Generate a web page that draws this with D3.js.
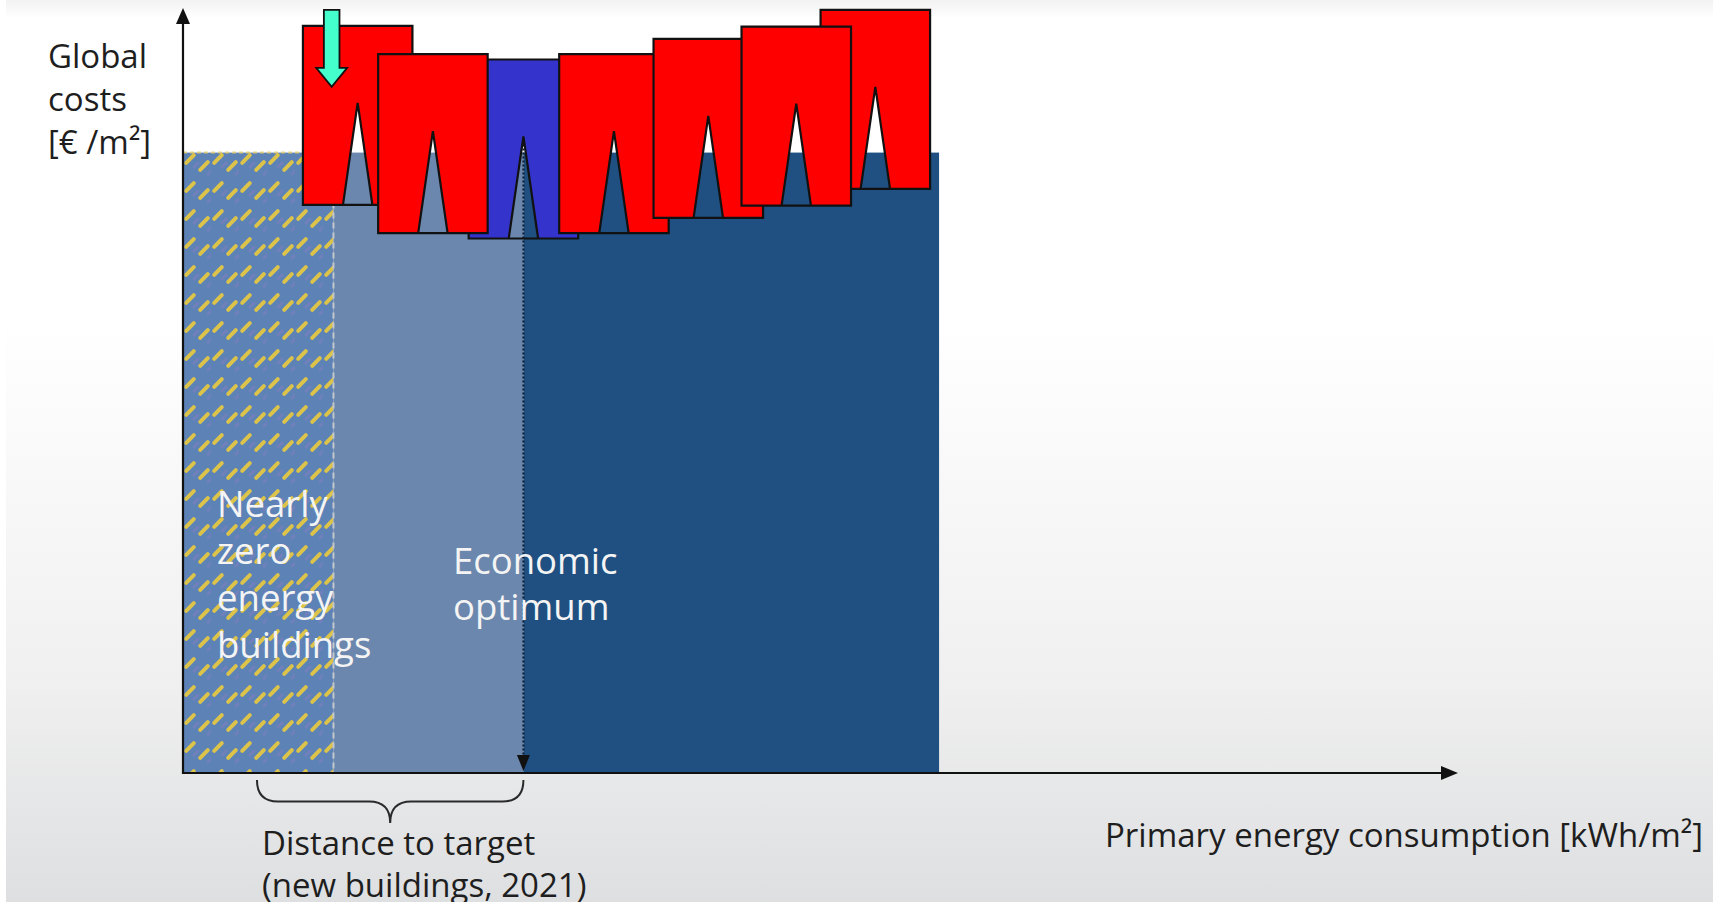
<!DOCTYPE html>
<html>
<head>
<meta charset="utf-8">
<script src="https://cdn.jsdelivr.net/npm/d3@7"></script>
<style>
  html, body { margin: 0; padding: 0; background: #fff; }
  svg { display: block; }
  text { font-family: "Open Sans", "Noto Sans", sans-serif; font-weight: 500; }
</style>
</head>
<body>
<svg id="chart" width="1713" height="902"></svg>
<script>
// ---------------- data ----------------
const regionNames = ["Nearly zero energy buildings", "Distance to target", "Above optimum"];
const regionStart = [0, 11.8, 26.7];
const regionEnd   = [11.8, 26.7, 59.3];
const regionCost  = [81.1, 81.1, 81.1];

const pointEnergy = [13.7, 19.6, 26.7, 33.8, 41.2, 48.1, 54.3];
const pointCost   = [87.6, 83.9, 83.2, 83.9, 85.9, 87.5, 89.7];
const optimumIndex = 2;
const drawOrder = [2, 6, 0, 1, 3, 4, 5];

const braceRange = [5.8, 26.7];

const yLabelLines = ["Global", "costs", "[€ /m²]"];
const xLabel = "Primary energy consumption [kWh/m²]";
const nzebLines = ["Nearly", "zero", "energy", "buildings"];
const optimumLines = ["Economic", "optimum"];
const braceLines = ["Distance to target", "(new buildings, 2021)"];

// ---------------- setup ----------------
const W = 1713, H = 902;
const svg = d3.select("#chart");
const x = d3.scaleLinear().domain([0, 100]).range([183, 1458]);
const y = d3.scaleLinear().domain([0, 100]).range([773, 8]);

const defs = svg.append("defs");
const bg = defs.append("linearGradient").attr("id", "bg").attr("x1", 0).attr("y1", 0).attr("x2", 0).attr("y2", 1);
bg.append("stop").attr("offset", "0").attr("stop-color", "#f2f2f2");
bg.append("stop").attr("offset", "0.02").attr("stop-color", "#ffffff");
bg.append("stop").attr("offset", "0.35").attr("stop-color", "#ffffff");
bg.append("stop").attr("offset", "0.75").attr("stop-color", "#f0f0f0");
bg.append("stop").attr("offset", "1").attr("stop-color", "#dedfe1");

const T = 28;
const pat = defs.append("pattern").attr("id", "hatch")
  .attr("patternUnits", "userSpaceOnUse").attr("width", T).attr("height", T)
  .attr("x", 183).attr("y", 152);
pat.append("rect").attr("width", T).attr("height", T).attr("fill", "#5d82b6");
[[7, 7], [21, 14], [14, 24]].slice(0, 2).forEach(([cx, cy]) => {
  pat.append("line").attr("x1", cx + 4).attr("y1", cy + 8).attr("x2", cx + 8).attr("y2", cy + 4)
    .attr("stroke", "#8a7cc0").attr("stroke-width", 3).attr("stroke-linecap", "round").attr("opacity", 0.4);
  pat.append("line").attr("x1", cx - 3.8).attr("y1", cy + 3.8).attr("x2", cx + 3.8).attr("y2", cy - 3.8)
    .attr("stroke", "#dcc34a").attr("stroke-width", 4).attr("stroke-linecap", "round");
});

svg.append("rect").attr("width", W).attr("height", H).attr("fill", "url(#bg)");
svg.append("rect").attr("width", 6).attr("height", H).attr("fill", "#ffffff");

// ---------------- regions ----------------
const regionFill = ["url(#hatch)", "#6b87ad", "#1f5081"];
svg.append("g").selectAll("rect").data(regionNames).join("rect")
  .attr("x", (d, i) => x(regionStart[i]))
  .attr("y", (d, i) => y(regionCost[i]))
  .attr("width", (d, i) => x(regionEnd[i]) - x(regionStart[i]))
  .attr("height", (d, i) => y(0) - y(regionCost[i]))
  .attr("fill", (d, i) => regionFill[i]);

// dotted yellow top edge of NZEB region
svg.append("line")
  .attr("x1", x(regionStart[0])).attr("x2", x(regionEnd[0]))
  .attr("y1", y(regionCost[0])).attr("y2", y(regionCost[0]))
  .attr("stroke", "#e6cf6a").attr("stroke-width", 2).attr("stroke-dasharray", "4,3").attr("opacity", 0.8);

// dashed boundary of NZEB region
svg.append("line")
  .attr("x1", x(regionEnd[0])).attr("x2", x(regionEnd[0]))
  .attr("y1", y(regionCost[0])).attr("y2", y(0))
  .attr("stroke", "#c4c8cc").attr("stroke-width", 2).attr("stroke-dasharray", "6,4");

// dotted optimum line with arrow
const ox = x(pointEnergy[optimumIndex]);
svg.append("line")
  .attr("x1", ox).attr("x2", ox)
  .attr("y1", y(pointCost[optimumIndex])).attr("y2", y(0) - 12)
  .attr("stroke", "#0b1a33").attr("stroke-width", 2).attr("stroke-dasharray", "2,2");
svg.append("path")
  .attr("d", `M${ox - 6.5},${y(0) - 18} L${ox + 6.5},${y(0) - 18} L${ox},${y(0) - 2} Z`)
  .attr("fill", "#111");

// ---------------- region labels ----------------
const nz = svg.append("text").attr("fill", "#f4f4f4").attr("font-size", 36.5);
nzebLines.forEach((t, i) => nz.append("tspan").attr("x", 217).attr("y", 517 + i * 47).text(t));
const eo = svg.append("text").attr("fill", "#f4f4f4").attr("font-size", 36.5);
optimumLines.forEach((t, i) => eo.append("tspan").attr("x", 453).attr("y", 574 + i * 46).text(t));

// ---------------- axes ----------------
const axisG = svg.append("g");
axisG.append("line").attr("x1", x(0)).attr("x2", x(0)).attr("y1", y(0) + 1).attr("y2", y(100) + 14)
  .attr("stroke", "#111").attr("stroke-width", 2.2);
axisG.append("path").attr("d", `M${x(0) - 7},${y(100) + 16} L${x(0) + 7},${y(100) + 16} L${x(0)},${y(100)} Z`).attr("fill", "#111");
axisG.append("line").attr("x1", x(0) - 1).attr("x2", x(100) - 14).attr("y1", y(0)).attr("y2", y(0))
  .attr("stroke", "#111").attr("stroke-width", 2.2);
axisG.append("path").attr("d", `M${x(100) - 17},${y(0) - 7} L${x(100) - 17},${y(0) + 7} L${x(100)},${y(0)} Z`).attr("fill", "#111");

// ---------------- markers ----------------
const MW = 109.5, MH = 179, APEX = 77, NB = 14.7;
function markerPath(px, py) {
  const l = px - MW / 2, r = px + MW / 2, t = py - APEX, b = t + MH;
  return `M${l},${t} L${r},${t} L${r},${b} L${l},${b} Z ` +
         `M${px},${py} L${px + NB},${b} L${px - NB},${b} Z`;
}
svg.append("g").selectAll("path").data(drawOrder).join("path")
  .attr("d", i => markerPath(x(pointEnergy[i]), y(pointCost[i])))
  .attr("fill", i => i === optimumIndex ? "#3434cc" : "#ff0000")
  .attr("fill-rule", "evenodd")
  .attr("stroke", "#111").attr("stroke-width", 2.2).attr("stroke-linejoin", "miter");

// cyan arrow on first marker
const ax0 = x(pointEnergy[0]) - 26, ay0 = y(pointCost[0]) - 16;
svg.append("path")
  .attr("d", `M${ax0 - 7.8},${ay0 - 77} L${ax0 + 7.8},${ay0 - 77} L${ax0 + 7.8},${ay0 - 19} L${ax0 + 15.5},${ay0 - 19} L${ax0},${ay0} L${ax0 - 15.5},${ay0 - 19} L${ax0 - 7.8},${ay0 - 19} Z`)
  .attr("fill", "#44ffcc").attr("stroke", "#111").attr("stroke-width", 1.8);

// ---------------- brace ----------------
const bl = x(braceRange[0]), br = x(braceRange[1]), bm = (bl + br) / 2;
svg.append("path")
  .attr("d", `M${bl},780 Q${bl},801.5 ${bl + 21},801.5 L${bm - 21},801.5 Q${bm},801.5 ${bm},823 Q${bm},801.5 ${bm + 21},801.5 L${br - 21},801.5 Q${br},801.5 ${br},780`)
  .attr("fill", "none").attr("stroke", "#2a2a2a").attr("stroke-width", 2);

// ---------------- axis texts ----------------
const yl = svg.append("text").attr("fill", "#1e1e1e").attr("font-size", 33);
yLabelLines.forEach((t, i) => yl.append("tspan").attr("x", 48).attr("y", 68 + i * 43).text(t));
svg.append("text").attr("fill", "#1e1e1e").attr("font-size", 33).attr("x", 1105).attr("y", 847).text(xLabel);
const btx = svg.append("text").attr("fill", "#1e1e1e").attr("font-size", 33);
braceLines.forEach((t, i) => btx.append("tspan").attr("x", 262).attr("y", 855 + i * 42).text(t));
</script>
</body>
</html>
